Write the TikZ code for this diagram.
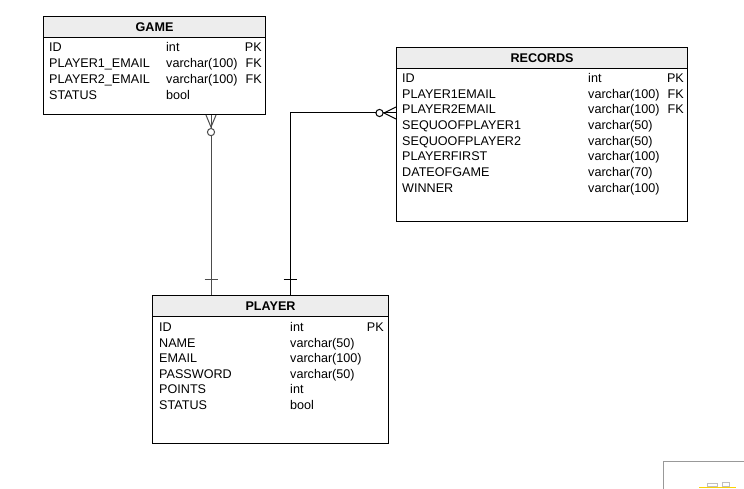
\documentclass[tikz,border=0pt]{standalone}
\usepackage{fontspec}
\setmainfont{Liberation Sans}
\usetikzlibrary{calc}
\tikzset{
  tbl/.style={draw=black, line width=1.1pt, fill=white, inner sep=0pt, anchor=north west},
  hdr/.style={draw=black, line width=1.1pt, fill=black!7, inner sep=0pt, anchor=north west},
  hdrtxt/.style={font=\fontsize{12.6}{15}\selectfont\bfseries, inner sep=0pt},
  cell/.style={font=\fontsize{12.6}{15}\selectfont, inner sep=0pt, anchor=base west},
  keycell/.style={font=\fontsize{12.6}{15}\selectfont, inner sep=0pt, anchor=base east},
  rel/.style={line width=1pt},
}
\begin{document}
\begin{tikzpicture}[x=1pt,y=-1pt]
\useasboundingbox (0,0) rectangle (744,489);
\fill[white] (0,0) rectangle (744,489);

% ---------- GAME ----------
\node[tbl, minimum width=222pt, minimum height=98pt] (game) at (43,16) {};
\node[hdr, minimum width=222pt, minimum height=21pt] (gameh) at (43,16) {};
\node[hdrtxt] (gamet) at (gameh.center) {GAME};
\foreach \n/\t/\k [count=\i from 0] in {ID/int/PK, PLAYER1\_EMAIL/varchar(100)/FK, PLAYER2\_EMAIL/varchar(100)/FK, STATUS/bool/}{
  \node[cell] (gn\i) at (49,51.5+16*\i) {\n};
  \node[cell] (gt\i) at (166,51.5+16*\i) {\t};
  \node[keycell] (gk\i) at (262,51.5+16*\i) {\k};
}

% ---------- RECORDS ----------
\node[tbl, minimum width=291pt, minimum height=174pt] (rec) at (396,47) {};
\node[hdr, minimum width=291pt, minimum height=21pt] (rech) at (396,47) {};
\node[hdrtxt] (rect) at (rech.center) {RECORDS};
\foreach \n/\t/\k [count=\i from 0] in {ID/int/PK, PLAYER1EMAIL/varchar(100)/FK, PLAYER2EMAIL/varchar(100)/FK, SEQUOOFPLAYER1/varchar(50)/, SEQUOOFPLAYER2/varchar(50)/, PLAYERFIRST/varchar(100)/, DATEOFGAME/varchar(70)/, WINNER/varchar(100)/}{
  \node[cell] (rn\i) at (402,82.5+15.7*\i) {\n};
  \node[cell] (rt\i) at (588,82.5+15.7*\i) {\t};
  \node[keycell] (rk\i) at (684,82.5+15.7*\i) {\k};
}

% ---------- PLAYER ----------
\node[tbl, minimum width=236pt, minimum height=148pt] (player) at (152,295) {};
\node[hdr, minimum width=236pt, minimum height=21pt] (playerh) at (152,295) {};
\node[hdrtxt] (playert) at (playerh.center) {PLAYER};
\foreach \n/\t/\k [count=\i from 0] in {ID/int/PK, NAME/varchar(50)/, EMAIL/varchar(100)/, PASSWORD/varchar(50)/, POINTS/int/, STATUS/bool/}{
  \node[cell] (pn\i) at (159,331.5+15.6*\i) {\n};
  \node[cell] (pt\i) at (290,331.5+15.6*\i) {\t};
  \node[keycell] (pk\i) at (384,331.5+15.6*\i) {\k};
}

% ---------- connector GAME -- PLAYER ----------
\coordinate (gx) at (211,0);
\draw[rel, black!70] (game.south -| gx) -- (player.north -| gx);
\draw[rel, black!70] ($(game.south -| gx)+(-5,0)$) -- ($(game.south -| gx)+(0,12)$) -- ($(game.south -| gx)+(5,0)$);
\draw[rel, black!70, fill=white] ($(game.south -| gx)+(0,17)$) circle (3.6);
\draw[rel, black!70] ($(player.north -| gx)+(-6.5,-16)$) -- ($(player.north -| gx)+(6.5,-16)$);

% ---------- connector RECORDS -- PLAYER ----------
\coordinate (ry) at (0,113);
\coordinate (px) at (290,0);
\draw[rel] (rec.west |- ry) -- (px |- ry) -- (player.north -| px);
\draw[rel] ($(rec.west |- ry)+(0,-6)$) -- ($(rec.west |- ry)+(-12,0)$) -- ($(rec.west |- ry)+(0,6)$);
\draw[rel, fill=white] ($(rec.west |- ry)+(-16.5,0)$) circle (3.6);
\draw[rel] ($(player.north -| px)+(-6.5,-16)$) -- ($(player.north -| px)+(6.5,-16)$);

% ---------- partial element at bottom right ----------
\draw[black!40, line width=0.8pt] (663,489) -- (663,461) -- (744,461);
\draw[yellow!70!orange, line width=1pt] (699,487.5) -- (736,487.5);
\draw[black!25, line width=0.6pt] (707,486) rectangle (717,483) (722,486) rectangle (729,482);
\end{tikzpicture}
\end{document}
